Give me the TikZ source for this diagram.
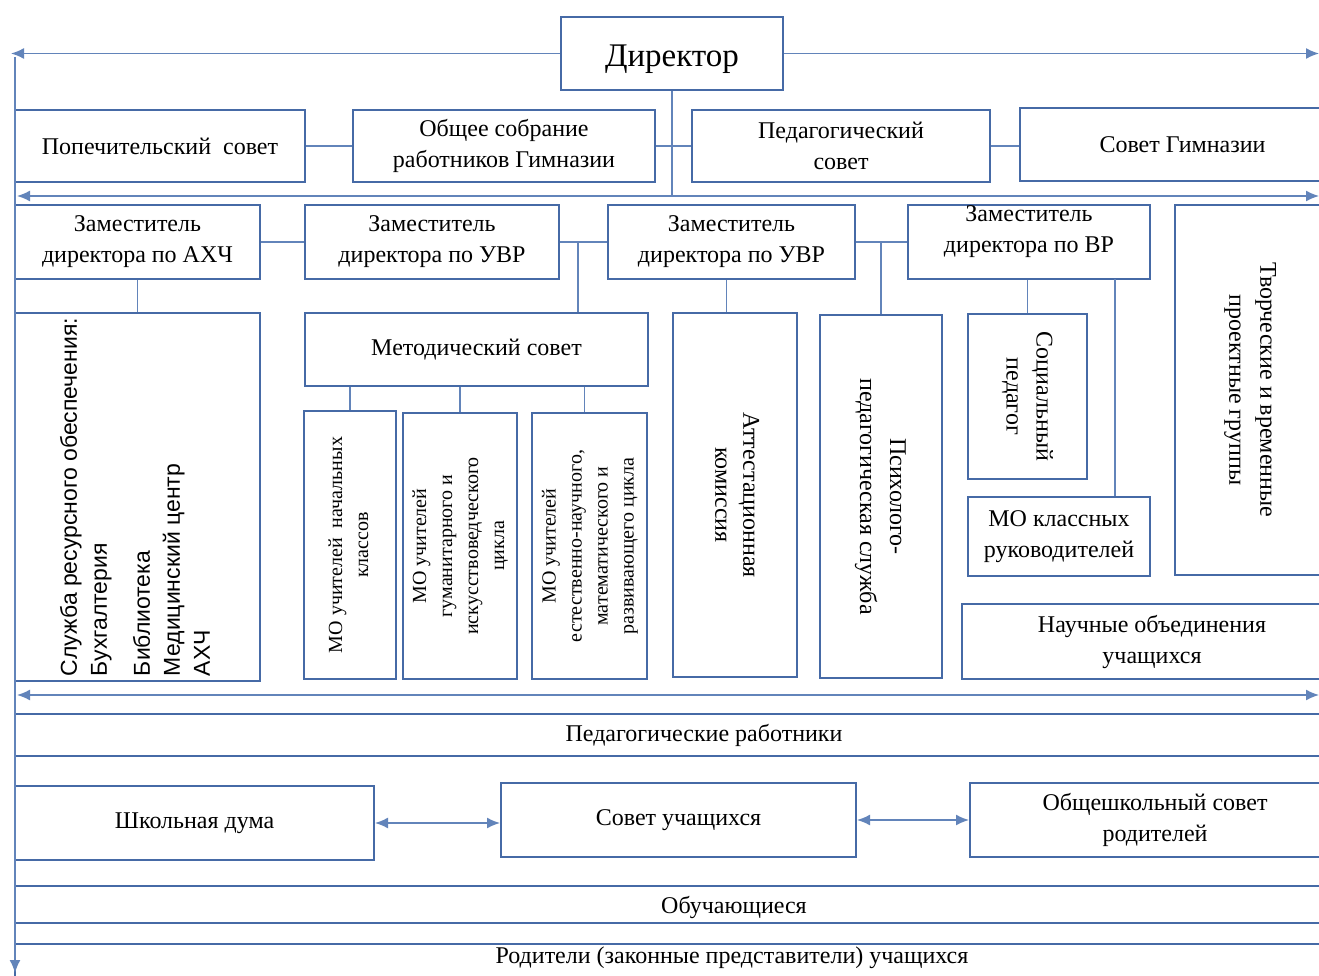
\documentclass[tikz,border=0pt]{standalone}
\usepackage{fontspec}
\setmainfont{Liberation Serif}
\newfontfamily\sansf{Liberation Sans}
\usepackage{graphicx}
\usetikzlibrary{arrows.meta,calc}
\definecolor{bcol}{RGB}{70,106,166}
\definecolor{lcol}{RGB}{98,132,186}
\newcommand\Bx[7][]{\node[box,minimum width={#4-#2},minimum height={#5-#3},#1] (#6) at ({(#2+#4)/2},{(#3+#5)/2}) {#7};}
\newcommand\VL[2]{\rotatebox{#1}{\begin{tabular}{@{}c@{}}#2\end{tabular}}}
\newcommand\Sh[2]{\raisebox{#1}[\height][\depth]{#2}}
\begin{document}
\begin{tikzpicture}[x=1pt,y=-1pt,
  box/.style={draw=bcol,line width=2pt,fill=white,align=center,inner sep=0pt,
    font=\fontsize{24}{31}\selectfont},
  conn/.style={draw=lcol,line width=1.6pt},
  arr/.style={conn,-{Latex[length=13pt,width=11pt]}},
  darr/.style={conn,{Latex[length=13pt,width=11pt]}-{Latex[length=13pt,width=11pt]}},
  small/.style={font=\fontsize{20}{26}\selectfont}]
\useasboundingbox (0,0) rectangle (1319,976);
\clip (0,0) rectangle (1319,976);
\fill[white] (0,0) rectangle (1319,976);

% top
\Bx[font=\fontsize{33}{36}\selectfont]{561}{17}{783}{90}{dir}{\Sh{-6pt}{Директор}}
\Bx{15}{110}{305}{182}{pop}{Попечительский\ \ совет}
\Bx{353}{110}{655}{182}{obs}{Общее собрание\\работников Гимназии}
\Bx{692}{110}{990}{182}{ped}{Педагогический\\совет}
\Bx{1020}{108}{1345}{181}{sg}{Совет Гимназии}

% deputies
\Bx{15}{205}{260}{279}{z1}{Заместитель\\директора по АХЧ}
\Bx{305}{205}{559}{279}{z2}{Заместитель\\директора по УВР}
\Bx{608}{205}{855}{279}{z3}{Заместитель\\директора по УВР}
\Bx{908}{205}{1150}{279}{z4}{\Sh{11pt}{\begin{tabular}{@{}c@{}}Заместитель\\директора по ВР\end{tabular}}}
\Bx{1175}{205}{1327}{575}{tv}{\VL{-90}{Творческие и временные\\проектные группы}}

% fourth row
\Bx[font=\sansf\fontsize{23}{30}\selectfont]{15}{313}{260}{681}{sl}{\rotatebox{90}{\begin{tabular}{@{}l@{}}Служба ресурсного обеспечения:\\Бухгалтерия\\[13pt]Библиотека\\Медицинский центр\\АХЧ\end{tabular}}}
\Bx{305}{313}{648}{386}{ms}{Методический совет}
\Bx[small]{304}{411}{396}{679}{mo1}{\VL{90}{МО учителей\ \ начальных\\классов}}
\Bx[small]{403}{413}{517}{679}{mo2}{\VL{90}{МО учителей\\гуманитарного и\\искусствоведческого\\цикла}}
\Bx[small]{532}{413}{647}{679}{mo3}{\VL{90}{МО учителей\\естественно-научного,\\математического и\\развивающего цикла}}
\Bx[font=\fontsize{24}{28}\selectfont]{673}{313}{797}{677}{at}{\VL{-90}{Аттестационная\\комиссия}}
\Bx[font=\fontsize{24}{30}\selectfont]{820}{315}{942}{678}{ps}{\VL{-90}{Психолого-\\педагогическая служба}}
\Bx[font=\fontsize{24}{30}\selectfont]{968}{314}{1087}{479}{sp}{\VL{-90}{Социальный\\педагог}}
\Bx{968}{497}{1150}{576}{mk}{МО классных\\руководителей}
\Bx{962}{604}{1342}{679}{no}{Научные объединения\\учащихся}

% bottom
\Bx{15}{714}{1393}{756}{pr}{Педагогические работники}
\Bx{15}{786}{374}{860}{sd}{Школьная дума}
\Bx{501}{783}{856}{857}{su}{Совет учащихся}
\Bx{970}{783}{1340}{857}{os}{Общешкольный совет\\родителей}
\Bx{15}{886}{1453}{923}{ob}{\Sh{-3pt}{Обучающиеся}}
\Bx{15}{944}{1449}{990}{rod}{\Sh{9pt}{Родители (законные представители) учащихся}}

% coordinates
\coordinate (tl) at (11,57);
\coordinate (tr) at (1319,57);
\coordinate (vt) at (15,57);
\coordinate (vb) at (15,973);
\coordinate (h1l) at (17,196);
\coordinate (h1r) at (1319,196);
\coordinate (h2l) at (17,695);
\coordinate (h2r) at (1319,695);
\coordinate (j1) at (578,242);
\coordinate (j2) at (1115,279);

% director arrows and main lines
\draw[arr] (dir.west) -- (dir.west -| tl);
\draw[arr] (dir.east) -- (dir.east -| tr);
\draw[arr] (vt) -- (vb);
\draw[darr] (h1l) -- (h1r);
\draw[darr] (h2l) -- (h2r);
\draw[conn] (dir.south) -- (dir.south |- h1l);

% row 2 links
\draw[conn] (pop.east) -- (obs.west);
\draw[conn] (obs.east) -- (ped.west);
\draw[conn] (ped.east) -- (ped.east -| sg.west);

% deputies links
\draw[conn] (z1.east) -- (z2.west);
\draw[conn] (z2.east) -- (z3.west);
\draw[conn] (z3.east) -- (z4.west);
\draw[conn] (j1) -- (j1 |- ms.north);
\draw[conn] (z3.east -| ps.north) -- (ps.north);
\draw[conn] (z1.south) -- (sl.north);
\draw[conn] ([xshift=-5pt]z3.south) -- ([xshift=-5pt]z3.south |- at.north);
\draw[conn] (sp.north |- z4.south) -- (sp.north);
\draw[conn] (j2) -- (j2 |- mk.north);

% methodical council
\draw[conn] (mo1.north |- ms.south) -- (mo1.north);
\draw[conn] (mo2.north |- ms.south) -- (mo2.north);
\draw[conn] ([xshift=-5pt]mo3.north |- ms.south) -- ([xshift=-5pt]mo3.north);

% councils
\draw[darr] (sd.east) -- (sd.east -| su.west);
\draw[darr] (su.east) -- (su.east -| os.west);
\end{tikzpicture}
\end{document}
